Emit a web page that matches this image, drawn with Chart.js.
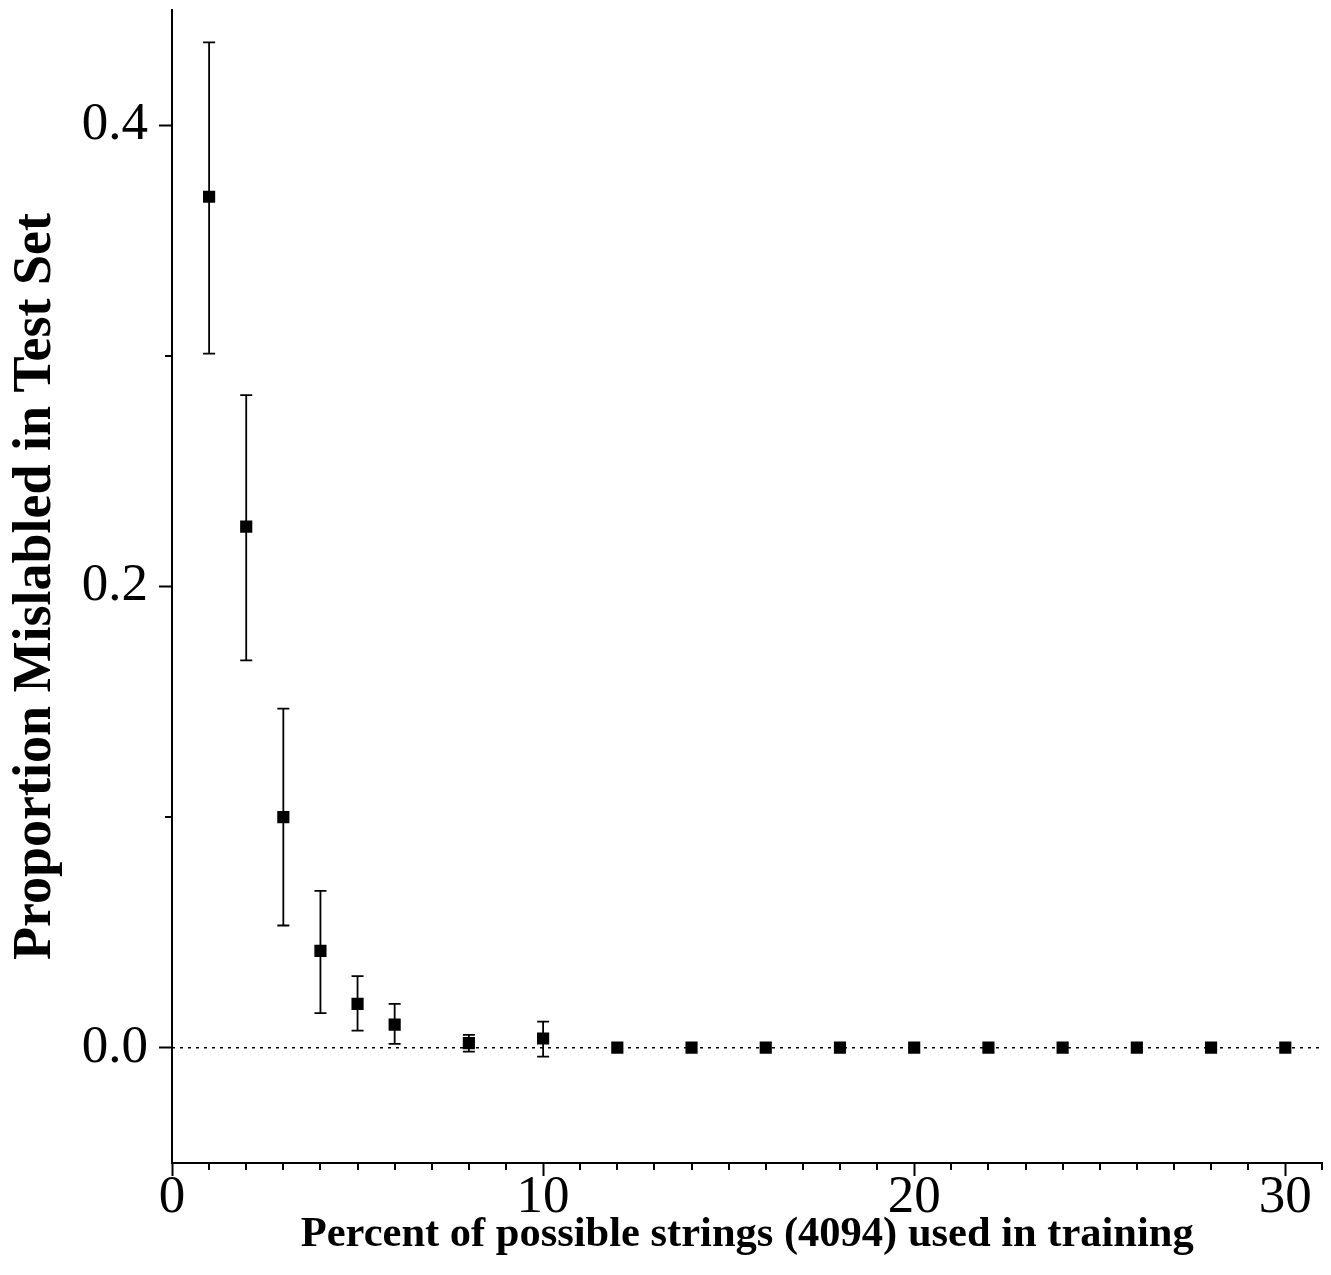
<!DOCTYPE html>
<html>
<head>
<meta charset="utf-8">
<script src="https://cdn.jsdelivr.net/npm/chart.js@4.4.1/dist/chart.umd.min.js"></script>
<style>
  html, body { margin: 0; padding: 0; background: #fff; }
  #wrap { width: 1331px; height: 1275px; }
</style>
</head>
<body>
<div id="wrap"><canvas id="mislabelChart"></canvas></div>
<script>
// data
const percentUsed    = [1, 2, 3, 4, 5, 6, 8, 10, 12, 14, 16, 18, 20, 22, 24, 26, 28, 30];
const propMislabeled = [0.369, 0.226, 0.100, 0.042, 0.019, 0.010, 0.002, 0.004, 0, 0, 0, 0, 0, 0, 0, 0, 0, 0];
const errUpper       = [0.436, 0.283, 0.147, 0.068, 0.031, 0.019, 0.0056, 0.0113, 0, 0, 0, 0, 0, 0, 0, 0, 0, 0];
const errLower       = [0.301, 0.168, 0.053, 0.015, 0.0074, 0.0017, -0.0017, -0.0039, 0, 0, 0, 0, 0, 0, 0, 0, 0, 0];
const xMajorTicks    = [0, 10, 20, 30];
const yMajorTicks    = [0.0, 0.2, 0.4];
const yMinorTicks    = [0.1, 0.3];
const xRange         = [0, 31];
const yRange         = [-0.05, 0.45];

const SERIF = "'Liberation Serif', 'Times New Roman', serif";

// error bars drawn under the markers
const errorBarPlugin = {
    id: 'errorBars',
    beforeDatasetsDraw(chart) {
        const { ctx, scales: { x, y } } = chart;
        ctx.save();
        ctx.strokeStyle = '#000';
        ctx.lineWidth = 1.8;
        percentUsed.forEach((p, i) => {
            if (errUpper[i] === errLower[i]) return;
            const px = x.getPixelForValue(p);
            const top = y.getPixelForValue(errUpper[i]);
            const bot = y.getPixelForValue(errLower[i]);
            ctx.beginPath();
            ctx.moveTo(px, top); ctx.lineTo(px, bot);
            ctx.moveTo(px - 6, top); ctx.lineTo(px + 6, top);
            ctx.moveTo(px - 6, bot); ctx.lineTo(px + 6, bot);
            ctx.stroke();
        });
        ctx.restore();
    }
};

// minor tick marks (chart.js has no minor ticks)
const minorTickPlugin = {
    id: 'minorTicks',
    afterDraw(chart) {
        const { ctx, chartArea, scales: { x, y } } = chart;
        ctx.save();
        ctx.strokeStyle = '#000';
        ctx.lineWidth = 2;
        ctx.beginPath();
        for (let v = xRange[0] + 1; v <= xRange[1]; v++) {
            if (xMajorTicks.includes(v)) continue;
            const px = Math.round(x.getPixelForValue(v));
            ctx.moveTo(px, chartArea.bottom);
            ctx.lineTo(px, chartArea.bottom + 7);
        }
        yMinorTicks.forEach(v => {
            const py = Math.round(y.getPixelForValue(v));
            ctx.moveTo(chartArea.left, py);
            ctx.lineTo(chartArea.left - 7, py);
        });
        ctx.stroke();
        ctx.restore();
    }
};

const ctx = document.getElementById('mislabelChart').getContext('2d');
new Chart(ctx, {
    type: 'scatter',
    data: {
        datasets: [
            {
                label: 'Proportion mislabeled',
                data: percentUsed.map((p, i) => ({ x: p, y: propMislabeled[i] })),
                pointStyle: 'rect',
                pointRadius: 8.6,
                pointHoverRadius: 8.6,
                backgroundColor: '#000',
                borderColor: '#000',
                borderWidth: 0,
                showLine: false,
                order: 1
            },
            {
                label: 'zero',
                data: [{ x: xRange[0], y: 0 }, { x: xRange[1], y: 0 }],
                type: 'line',
                borderColor: '#000',
                borderWidth: 1.6,
                borderDash: [3, 5],
                pointRadius: 0,
                fill: false,
                order: 2
            }
        ]
    },
    options: {
        responsive: true,
        maintainAspectRatio: false,
        animation: false,
        events: [],
        layout: { padding: { top: 10, right: 8, left: 0, bottom: 0 } },
        plugins: {
            legend: { display: false },
            tooltip: { enabled: false }
        },
        scales: {
            x: {
                type: 'linear',
                position: 'bottom',
                min: xRange[0],
                max: xRange[1],
                afterFit: s => { s.height = 112; s.paddingLeft = 0; s.paddingRight = 0; },
                afterBuildTicks: s => { s.ticks = xMajorTicks.map(v => ({ value: v })); },
                border: { display: true, color: '#000', width: 2 },
                grid: { drawOnChartArea: false, drawTicks: true, tickLength: 13, tickWidth: 2, tickColor: '#000' },
                ticks: {
                    color: '#000',
                    padding: -4,
                    maxRotation: 0,
                    font: { family: SERIF, size: 53, lineHeight: 1 },
                    callback: v => String(v)
                },
                title: {
                    display: true,
                    text: 'Percent of possible strings (4094) used in training',
                    color: '#000',
                    font: { family: SERIF, size: 42.5, weight: 'bold', lineHeight: 1.2 },
                    padding: { top: 0, bottom: 14 }
                }
            },
            y: {
                type: 'linear',
                position: 'left',
                min: yRange[0],
                max: yRange[1],
                afterFit: s => { s.width = 172; s.paddingTop = 0; s.paddingBottom = 0; },
                afterBuildTicks: s => { s.ticks = yMajorTicks.map(v => ({ value: v })); },
                border: { display: true, color: '#000', width: 2 },
                grid: { drawOnChartArea: false, drawTicks: true, tickLength: 13, tickWidth: 2, tickColor: '#000' },
                ticks: {
                    color: '#000',
                    padding: 11,
                    font: { family: SERIF, size: 53, lineHeight: 1 },
                    callback: v => Number(v).toFixed(1)
                },
                title: {
                    display: true,
                    text: 'Proportion Mislabled in Test Set',
                    color: '#000',
                    font: { family: SERIF, size: 54, weight: 'bold', lineHeight: 1.2 },
                    padding: { top: 4, bottom: 0 }
                }
            }
        }
    },
    plugins: [errorBarPlugin, minorTickPlugin]
});
</script>
</body>
</html>
